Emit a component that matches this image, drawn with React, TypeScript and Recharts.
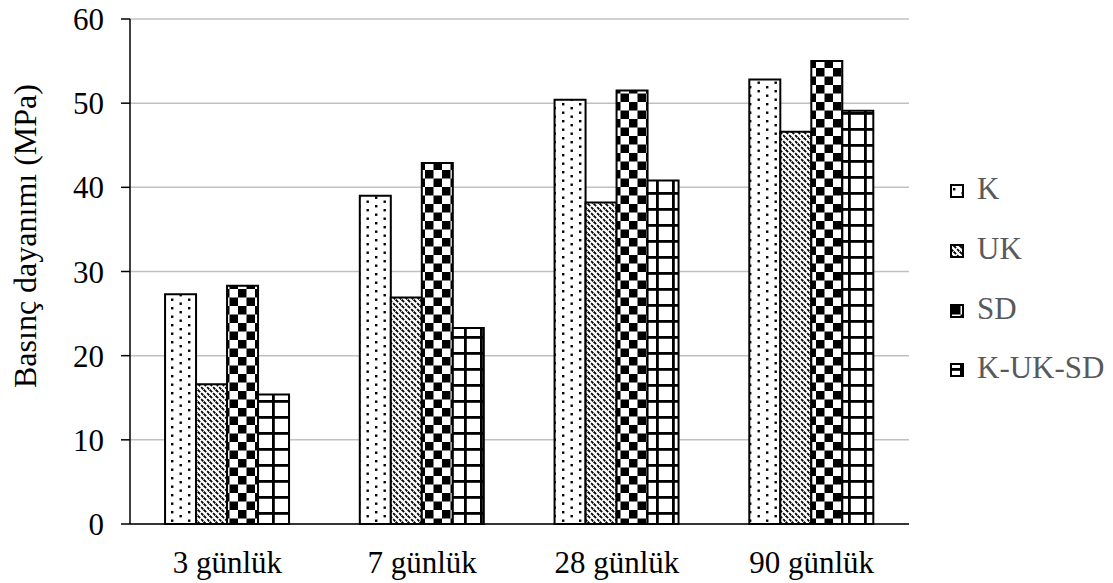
import { Bar, BarChart, CartesianGrid, XAxis, YAxis } from "recharts";

const categories = ["3 günlük", "7 günlük", "28 günlük", "90 günlük"];
const kValues = [27.3, 39.0, 50.4, 52.8];
const ukValues = [16.6, 26.9, 38.2, 46.6];
const sdValues = [28.3, 42.9, 51.5, 55.0];
const kuksdValues = [15.4, 23.3, 40.8, 49.1];
const yTicks = [0, 10, 20, 30, 40, 50, 60];

const seriesNames = ["K", "UK", "SD", "K-UK-SD"];
const patternIds = ["patDots", "patDiag", "patChecker", "patGrid"];

const data = categories.map((c, i) => ({
  name: c,
  K: kValues[i],
  UK: ukValues[i],
  SD: sdValues[i],
  "K-UK-SD": kuksdValues[i],
}));

const font = "Liberation Serif";

const Patterns = ({ prefix = "" }: { prefix?: string }) => (
  <defs>
    <pattern id={prefix + "patDots"} width="17" height="17" patternUnits="userSpaceOnUse">
      <rect width="17" height="17" fill="#fff" />
      <rect x="1" y="1" width="2.4" height="2.4" fill="#000" />
      <rect x="1" y="9.5" width="2.4" height="2.4" fill="#000" />
      <rect x="9.5" y="5" width="2.4" height="2.4" fill="#000" />
      <rect x="9.5" y="13.5" width="2.4" height="2.4" fill="#000" />
    </pattern>
    <pattern id={prefix + "patDiag"} width="6" height="6" patternUnits="userSpaceOnUse">
      <rect width="6" height="6" fill="#fff" />
      <path d="M0,0L6,6M-1,5L1,7M5,-1L7,1" stroke="#000" strokeWidth="1.8" strokeDasharray="3 1.5" />
    </pattern>
    <pattern id={prefix + "patChecker"} width="17" height="17" patternUnits="userSpaceOnUse">
      <rect width="17" height="17" fill="#fff" />
      <rect x="0" y="0" width="8.5" height="8.5" fill="#000" />
      <rect x="8.5" y="8.5" width="8.5" height="8.5" fill="#000" />
    </pattern>
    <pattern id={prefix + "patGrid"} width="16" height="16" patternUnits="userSpaceOnUse">
      <rect width="16" height="16" fill="#fff" />
      <rect x="0" y="0" width="16" height="2.8" fill="#000" />
      <rect x="0" y="0" width="2.8" height="16" fill="#000" />
    </pattern>
  </defs>
);

const legendBaselines = [199, 259, 319, 378];

export default function App() {
  return (
    <div style={{ position: "absolute", left: 0, top: 0, width: 1113, height: 583, background: "#fff" }}>
      <BarChart
        width={1113}
        height={583}
        data={data}
        margin={{ top: 19, right: 204, bottom: 0, left: 0 }}
        barCategoryGap="18%"
        barGap={0}
        style={{ fontFamily: font }}
      >
        <Patterns />
        <CartesianGrid vertical={false} stroke="#c0c0c0" strokeWidth={1.5} />
        <XAxis
          dataKey="name"
          height={59}
          tickLine={false}
          tickSize={0}
          tickMargin={27}
          axisLine={{ stroke: "#000", strokeWidth: 1.5 }}
          tick={{ fill: "#000", fontSize: 31, style: { fontFamily: font } }}
        />
        <YAxis
          width={130}
          domain={[0, 60]}
          ticks={yTicks}
          tickSize={9}
          tickMargin={17}
          axisLine={{ stroke: "#000", strokeWidth: 1.5 }}
          tickLine={{ stroke: "#000", strokeWidth: 1.5 }}
          tick={{ fill: "#000", fontSize: 31, style: { fontFamily: font } }}
          label={{
            content: () => (
              <text
                x={36}
                y={236}
                transform="rotate(-90 36 236)"
                textAnchor="middle"
                fill="#000"
                fontSize={32}
                style={{ fontFamily: font }}
              >
                Basınç dayanımı (MPa)
              </text>
            ),
          }}
        />
        {seriesNames.map((s, i) => (
          <Bar
            key={s}
            dataKey={s}
            fill={`url(#${patternIds[i]})`}
            stroke="#000"
            strokeWidth={2}
            isAnimationActive={false}
          />
        ))}
      </BarChart>
      <svg
        width={1113}
        height={583}
        style={{ position: "absolute", left: 0, top: 0, pointerEvents: "none" }}
      >
        <Patterns prefix="lg" />
        {seriesNames.map((s, i) => (
          <g key={s}>
            <rect
              x={951}
              y={legendBaselines[i] - 14}
              width={12}
              height={12}
              fill={`url(#lg${patternIds[i]})`}
              stroke="#000"
              strokeWidth={2}
            />
            <text
              x={977}
              y={legendBaselines[i]}
              fill="#595959"
              fontSize={31}
              style={{ fontFamily: font }}
            >
              {s}
            </text>
          </g>
        ))}
      </svg>
    </div>
  );
}
